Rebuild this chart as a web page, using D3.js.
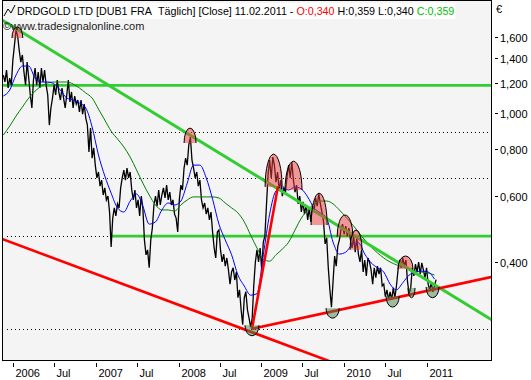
<!DOCTYPE html>
<html><head><meta charset="utf-8">
<script src="https://cdn.jsdelivr.net/npm/d3@7"></script>
<style>body{margin:0;background:#fff;} svg{display:block;font-family:"Liberation Sans",Arial,sans-serif;}</style>
</head><body><svg id="c" width="531" height="380"></svg>
<script>
// ---------- DATA ----------
const firstWeek = "2005-11-18";   // first weekly close (Friday)
const lastWeek  = "2011-02-11";   // last close
const weeklyClose = [
1.264,1.211,1.303,1.167,1.241,1.188,1.386,1.520,1.667,1.607,
1.474,1.369,1.430,1.288,1.188,1.369,1.241,1.118,1.032,1.226,
1.320,1.188,1.288,1.167,1.320,1.211,1.303,1.188,1.118,0.929,
1.032,1.097,1.188,1.118,1.226,1.139,1.084,1.167,1.097,1.032,
1.118,1.226,1.071,1.139,1.032,1.111,1.057,1.084,1.007,1.084,
0.994,1.057,0.970,0.929,0.787,0.912,0.758,0.807,0.726,0.671,
0.696,0.638,0.662,0.604,0.631,0.586,0.600,0.544,0.439,0.524,
0.558,0.531,0.572,0.558,0.631,0.671,0.704,0.662,0.713,0.671,
0.696,0.623,0.586,0.623,0.558,0.586,0.531,0.600,0.558,0.458,
0.418,0.431,0.386,0.458,0.493,0.568,0.600,0.564,0.623,0.568,
0.604,0.631,0.593,0.642,0.586,0.615,0.568,0.586,0.537,0.524,
0.481,0.586,0.642,0.623,0.713,0.758,0.726,0.822,0.863,0.749,
0.713,0.671,0.696,0.638,0.662,0.586,0.558,0.575,0.537,0.558,
0.518,0.544,0.481,0.436,0.410,0.481,0.487,0.431,0.400,0.420,
0.390,0.410,0.381,0.349,0.376,0.386,0.358,0.376,0.321,0.337,
0.298,0.272,0.321,0.333,0.298,0.283,0.268,0.283,0.347,0.400,
0.431,0.400,0.436,0.381,0.452,0.469,0.568,0.683,0.749,0.671,
0.763,0.726,0.654,0.696,0.623,0.662,0.600,0.631,0.615,0.679,
0.726,0.671,0.740,0.662,0.615,0.642,0.572,0.600,0.544,0.579,
0.537,0.568,0.518,0.558,0.512,0.564,0.544,0.593,0.564,0.608,
0.572,0.544,0.512,0.447,0.464,0.386,0.337,0.303,0.354,0.415,
0.390,0.441,0.458,0.487,0.505,0.475,0.499,0.469,0.493,0.458,
0.436,0.469,0.425,0.464,0.420,0.400,0.431,0.376,0.405,0.367,
0.410,0.400,0.381,0.349,0.386,0.363,0.390,0.371,0.386,0.345,
0.349,0.323,0.337,0.317,0.333,0.317,0.341,0.321,0.345,0.381,
0.405,0.386,0.410,0.390,0.405,0.354,0.329,0.341,0.386,0.367,
0.395,0.376,0.400,0.371,0.398,0.381,0.363,0.386,0.349,0.337,
0.352,0.333,0.345,0.359];
// moving averages, read every 4th week
const blueMA = [
1.111,1.152,1.264,1.336,1.336,1.241,1.211,1.211,1.196,1.152,
1.097,1.084,1.064,1.032,0.918,0.773,0.679,0.611,0.558,0.544,
0.582,0.608,0.564,0.505,0.512,0.551,0.575,0.568,0.582,0.650,
0.726,0.726,0.671,0.589,0.505,0.458,0.418,0.369,0.345,0.326,
0.329,0.418,0.537,0.619,0.631,0.623,0.635,0.627,0.597,0.558,
0.541,0.524,0.452,0.420,0.425,0.444,0.450,0.420,0.398,0.386,
0.376,0.349,0.337,0.352,0.369,0.376,0.378,0.376,0.360];
const greenMA = [
0.874,0.923,0.982,1.038,1.097,1.145,1.181,1.204,1.211,1.211,
1.211,1.196,1.167,1.132,1.097,1.025,0.958,0.895,0.853,0.812,
0.763,0.705,0.650,0.604,0.568,0.551,0.551,0.547,0.568,0.586,
0.597,0.597,0.597,0.597,0.593,0.575,0.558,0.541,0.512,0.472,
0.436,0.407,0.402,0.418,0.433,0.452,0.487,0.524,0.551,0.572,
0.582,0.582,0.572,0.551,0.528,0.505,0.481,0.458,0.439,0.423,
0.410,0.400,0.393,0.388,0.383,0.378,0.376,0.374,0.369];

const axisStart = "2005-11-12", axisEnd = "2011-10-16";
const yDomain = [0.2188, 2.006];
const yTicks = [0.4, 0.6, 0.8, 1.0, 1.2, 1.4, 1.6];
const yTickLabels = ["0,400","0,600","0,800","1,000","1,200","1,400","1,600"];
const xTickDates = ["2006-01-01","2006-07-01","2007-01-01","2007-07-01","2008-01-01","2008-07-01","2009-01-01","2009-07-01","2010-01-01","2010-07-01","2011-01-01"];
const xTickLabels = ["2006","Jul","2007","Jul","2008","Jul","2009","Jul","2010","Jul","2011"];

// drawing objects
const greenTrendDates = ["2005-11-12","2011-10-16"], greenTrendValues = [1.774, 0.280];
const redDownDates = ["2005-11-12","2010-01-01"], redDownValues = [0.461, 0.210];
const redUpDates = ["2008-11-20","2011-10-16"], redUpValues = [0.265, 0.365];
const redSteepDates = ["2008-11-20","2009-03-15"], redSteepValues = [0.265, 0.638];
const greenLevels = [1.186, 0.469], greenLevelStart = ["2005-11-12","2007-03-04"];
const dottedLevels = [0.890, 0.671, 0.469, 0.265], dottedStart = "2005-12-04";

const domeStart = ["2005-12-26","2008-01-25","2009-01-17","2009-04-15","2009-08-08","2009-12-01","2010-01-27","2010-08-27"];
const domeEnd   = ["2006-02-12","2008-03-18","2009-04-02","2009-06-29","2009-10-18","2010-02-09","2010-03-21","2010-11-01"];
const domeBase  = [1.587,0.832,0.635,0.623,0.502,0.467,0.431,0.383];
const domeTop   = [1.699,0.912,0.777,0.744,0.611,0.534,0.487,0.415];
const bowlStart = ["2008-10-20","2009-10-13","2010-07-05","2010-10-10","2010-12-29"];
const bowlEnd   = ["2008-12-21","2009-12-10","2010-09-01","2010-11-10","2011-02-24"];
const bowlTop   = [0.271,0.301,0.324,0.341,0.343];
const bowlBottom= [0.254,0.283,0.303,0.321,0.321];

const titleParts = [
  {t:"DRDGOLD LTD [DUB1 FRA\u00a0\u00a0Täglich] [Close] 11.02.2011 - ", c:"#000"},
  {t:"O:0,340", c:"#ff0000"},
  {t:" H:0,359 L:0,340 ", c:"#000"},
  {t:"C:0,359", c:"#00c000"}];

// ---------- CHART ----------
const P = d3.utcParse("%Y-%m-%d");
const svg = d3.select("#c");
const L = 2, R = 492, T = 0, B = 360;
const x = d3.scaleUtc().domain([P(axisStart), P(axisEnd)]).range([L, R]);
const y = d3.scaleLog().domain(yDomain).range([B, T]);

svg.append("rect").attr("width",531).attr("height",380).attr("fill","#fff");
svg.append("rect").attr("x",L).attr("y",T).attr("width",R-L).attr("height",B-T).attr("fill","#f4f4f4");
svg.append("clipPath").attr("id","clip").append("rect").attr("x",L).attr("y",T).attr("width",R-L).attr("height",B-T);
const g = svg.append("g").attr("clip-path","url(#clip)");

const weeks = d3.utcFriday.range(P(firstWeek), d3.utcDay.offset(P(lastWeek),1));
const maDates = weeks.filter((d,i)=>i%4===0);

// dotted levels
dottedLevels.forEach(v=>{
  g.append("line").attr("x1",x(P(dottedStart))).attr("x2",R).attr("y1",Math.round(y(v))+0.5).attr("y2",Math.round(y(v))+0.5)
   .attr("stroke","#000").attr("stroke-width",1).attr("stroke-dasharray","1,3");
});
// green horizontal levels
greenLevels.forEach((v,i)=>{
  g.append("line").attr("x1",x(P(greenLevelStart[i]))).attr("x2",R).attr("y1",y(v)).attr("y2",y(v))
   .attr("stroke","#33cc33").attr("stroke-width",2.6);
});

const line = d3.line().x(d=>x(d[0])).y(d=>y(d[1]));
// price
g.append("path").datum(weeks.map((d,i)=>[d,weeklyClose[i]])).attr("d",line)
 .attr("fill","none").attr("stroke","#000").attr("stroke-width",1.3).attr("stroke-linejoin","miter");
// MAs
const smooth = d3.line().x(d=>x(d[0])).y(d=>y(d[1])).curve(d3.curveMonotoneX);
g.append("path").datum(maDates.map((d,i)=>[d,greenMA[i]])).attr("d",smooth)
 .attr("fill","none").attr("stroke","#008000").attr("stroke-width",1);
g.append("path").datum(maDates.map((d,i)=>[d,blueMA[i]])).attr("d",smooth)
 .attr("fill","none").attr("stroke","#0000ff").attr("stroke-width",1);

// trend lines
function seg(dates, vals, col, w){
  g.append("path").datum(dates.map((d,i)=>[P(d),vals[i]])).attr("d",line)
   .attr("fill","none").attr("stroke",col).attr("stroke-width",w);
}
seg(greenTrendDates, greenTrendValues, "#33cc33", 3);
seg(redDownDates, redDownValues, "#ff0000", 2.6);
seg(redUpDates, redUpValues, "#ff0000", 2.6);
seg(redSteepDates, redSteepValues, "#ff0000", 2.6);

// domes (tops) and bowls (bottoms)
domeStart.forEach((s,i)=>{
  const x0 = x(P(s)), x1 = x(P(domeEnd[i])), yb = y(domeBase[i]), yt = y(domeTop[i]);
  const rx = (x1-x0)/2, ry = yb-yt;
  g.append("path").attr("d",`M${x0},${yb}A${rx},${ry} 0 0 1 ${x1},${yb}Z`).attr("fill","rgba(235,60,60,0.5)");
  g.append("path").attr("d",`M${x0},${yb}A${rx},${ry} 0 0 1 ${x1},${yb}`).attr("fill","none").attr("stroke","#000").attr("stroke-width",1);
});
bowlStart.forEach((s,i)=>{
  const x0 = x(P(s)), x1 = x(P(bowlEnd[i])), yt = y(bowlTop[i]), yb = y(bowlBottom[i]);
  const rx = (x1-x0)/2, ry = yb-yt;
  g.append("path").attr("d",`M${x0},${yt}A${rx},${ry} 0 0 0 ${x1},${yt}Z`).attr("fill","rgba(70,130,70,0.5)");
  g.append("path").attr("d",`M${x0},${yt}A${rx},${ry} 0 0 0 ${x1},${yt}`).attr("fill","none").attr("stroke","#000").attr("stroke-width",1);
});

// border
svg.append("rect").attr("x",L+0.5).attr("y",T+0.5).attr("width",R-L-1).attr("height",B-T).attr("fill","none").attr("stroke","#000");

// title
const tt = svg.append("text").attr("x",17).attr("y",15).attr("font-size",11);
titleParts.forEach(p=>tt.append("tspan").attr("fill",p.c).text(p.t));
let tw = tt.node().getComputedTextLength();
const fs = Math.max(10, Math.min(12.5, 11*438/tw));
tt.attr("font-size",fs);
tw = tt.node().getComputedTextLength();
svg.insert("rect","text").attr("x",16).attr("y",3).attr("width",tw+2).attr("height",16).attr("fill","#fff");
// small chart icon
svg.append("polyline").attr("points","4,16 8,9 11,13 15,5").attr("fill","none").attr("stroke","#000").attr("stroke-width",1);
svg.append("text").attr("x",3).attr("y",30).attr("font-size",11).attr("fill","#222").text("\u00a9www.tradesignalonline.com");

// y axis (right)
const ya = svg.append("g");
yTicks.forEach((v,i)=>{
  const yy = Math.round(y(v))+0.5;
  ya.append("line").attr("x1",495).attr("x2",498).attr("y1",yy).attr("y2",yy).attr("stroke","#000");
  ya.append("text").attr("x",500).attr("y",yy+4).attr("font-size",11).attr("fill","#000").text(yTickLabels[i]);
});
svg.append("text").attr("x",496).attr("y",13).attr("font-size",11).text("\u20ac");

// x axis
const xa = svg.append("g");
xTickDates.forEach((d,i)=>{
  const xx = Math.round(x(P(d)))+0.5;
  xa.append("line").attr("x1",xx).attr("x2",xx).attr("y1",363).attr("y2",367).attr("stroke","#000");
  xa.append("text").attr("x",xx+2).attr("y",377).attr("font-size",11).attr("fill","#000").text(xTickLabels[i]);
});
</script></body></html>
